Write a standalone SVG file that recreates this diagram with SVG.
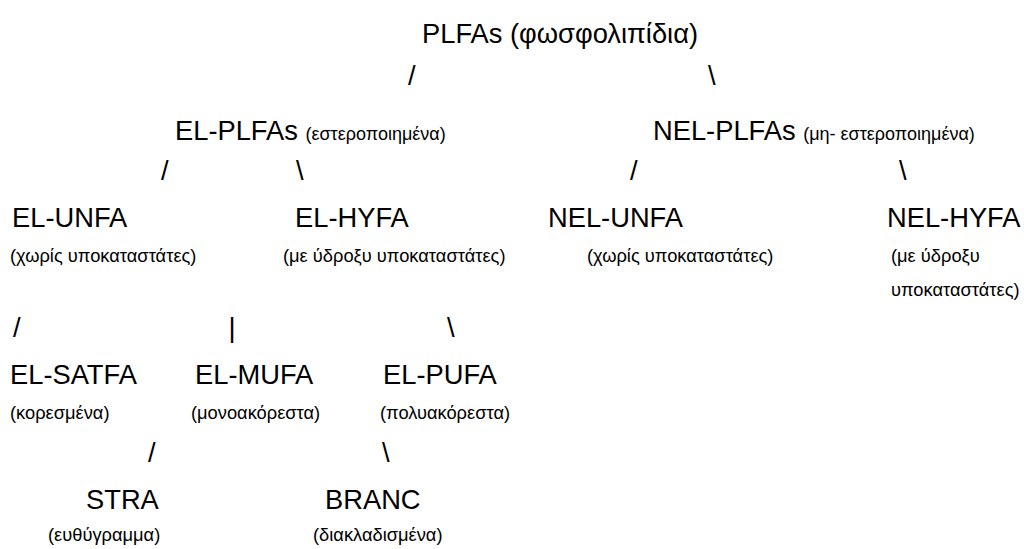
<svg xmlns="http://www.w3.org/2000/svg" width="1024" height="549" viewBox="0 0 1024 549">
<style>
text{font-family:"Liberation Sans",Arial,sans-serif;fill:#000}
.t{font-size:27.3px}
.s{font-size:18.3px}
.xs{font-size:18px}
.c{font-size:27.3px}
</style>
<rect width="1024" height="549" fill="#fff"/>
<g id="connectors">
<text class="c" x="408" y="85">/</text>
<text class="c" x="708" y="85">\</text>
<text class="c" x="161" y="180">/</text>
<text class="c" x="296" y="180">\</text>
<text class="c" x="630" y="180">/</text>
<text class="c" x="899" y="180">\</text>
<text class="c" x="13" y="337">/</text>
<text class="c" x="228.5" y="337">|</text>
<text class="c" x="447" y="337">\</text>
<text class="c" x="148" y="462">/</text>
<text class="c" x="382" y="462">\</text>
</g>
<g id="plfas"><text class="t" x="422" y="43">PLFAs (φωσφολιπίδια)</text></g>
<g id="el-plfas"><text x="175" y="140"><tspan class="t">EL-PLFAs </tspan><tspan class="xs">(εστεροποιημένα)</tspan></text></g>
<g id="nel-plfas"><text x="653" y="140"><tspan class="t">NEL-PLFAs </tspan><tspan class="xs">(μη- εστεροποιημένα)</tspan></text></g>
<g id="el-unfa"><text class="t" x="12" y="227">EL-UNFA</text><text class="s" x="10" y="262">(χωρίς υποκαταστάτες)</text></g>
<g id="el-hyfa"><text class="t" x="295" y="227">EL-HYFA</text><text class="s" x="283" y="262">(με ύδροξυ υποκαταστάτες)</text></g>
<g id="nel-unfa"><text class="t" x="548" y="227">NEL-UNFA</text><text class="s" x="587" y="262">(χωρίς υποκαταστάτες)</text></g>
<g id="nel-hyfa"><text class="t" x="887" y="227">NEL-HYFA</text><text class="s" x="891" y="262">(με ύδροξυ</text><text class="s" x="891" y="296">υποκαταστάτες)</text></g>
<g id="el-satfa"><text class="t" x="10" y="384">EL-SATFA</text><text class="s" x="10" y="419">(κορεσμένα)</text></g>
<g id="el-mufa"><text class="t" x="195" y="384">EL-MUFA</text><text class="s" x="191" y="419">(μονοακόρεστα)</text></g>
<g id="el-pufa"><text class="t" x="383" y="384">EL-PUFA</text><text class="s" x="380" y="419">(πολυακόρεστα)</text></g>
<g id="stra"><text class="t" x="86" y="509">STRA</text><text class="s" x="48" y="541">(ευθύγραμμα)</text></g>
<g id="branc"><text class="t" x="325" y="509">BRANC</text><text class="s" x="313" y="541">(διακλαδισμένα)</text></g>
</svg>
